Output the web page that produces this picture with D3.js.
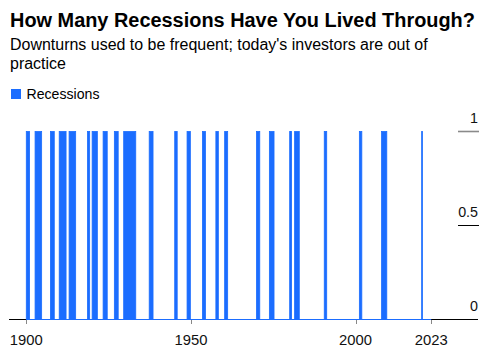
<!DOCTYPE html>
<html>
<head>
<meta charset="utf-8">
<script src="https://cdn.jsdelivr.net/npm/d3@7"></script>
<style>
  html, body { margin: 0; padding: 0; background: #fff; }
  svg { display: block; }
  text { font-family: "Liberation Sans", Arial, Helvetica, sans-serif; }
</style>
</head>
<body>
<div id="chart"></div>
<script>
// NBER recessions (peak -> trough), year and month
const peakYears    = [1899, 1902, 1907, 1910, 1913, 1918, 1920, 1923, 1926, 1929, 1937, 1945, 1948, 1953, 1957, 1960, 1969, 1973, 1980, 1981, 1990, 2001, 2007, 2020];
const peakMonths   = [6,    9,    5,    1,    1,    8,    1,    5,    10,   8,    5,    2,    11,   7,    8,    4,    12,   11,   1,    7,    7,    3,    12,   2];
const troughYears  = [1900, 1904, 1908, 1912, 1914, 1919, 1921, 1924, 1927, 1933, 1938, 1945, 1949, 1954, 1958, 1961, 1970, 1975, 1980, 1982, 1991, 2001, 2009, 2020];
const troughMonths = [12,   8,    6,    1,    12,   3,    7,    7,    11,   3,    6,    10,   10,   5,    4,    2,    11,   3,    7,    11,   3,    11,   6,    4];
const dataStart = 1900;
const dataEnd = 2023;
const xTickValues = [1900, 1950, 2000, 2023];
const yTickValues = [0, 0.5, 1];
const yTickLabels = ["0", "0.5", "1"];
const seriesName = "Recessions";
const titleText = "How Many Recessions Have You Lived Through?";
const subtitleLines = ["Downturns used to be frequent; today's investors are out of", "practice"];

const W = 491, H = 355;
const blue = "#1b6dff";

const svg = d3.select("#chart").append("svg").attr("width", W).attr("height", H);

function fitText(sel, target) {
  const len = sel.node().getComputedTextLength();
  const fs = parseFloat(sel.attr("font-size"));
  sel.attr("font-size", (fs * target / len).toFixed(2));
}

// Title & subtitle
const t = svg.append("text").attr("x", 10).attr("y", 26.7)
  .attr("font-size", 19).attr("font-weight", "bold").attr("fill", "#000").text(titleText);
fitText(t, 465);
const s1 = svg.append("text").attr("x", 10).attr("y", 49.5)
  .attr("font-size", 14.5).attr("fill", "#000").text(subtitleLines[0]);
fitText(s1, 418);
const fsSub = s1.attr("font-size");
svg.append("text").attr("x", 10).attr("y", 68.7)
  .attr("font-size", fsSub).attr("fill", "#000").text(subtitleLines[1]);

// Legend
svg.append("rect").attr("x", 11).attr("y", 89).attr("width", 10).attr("height", 10).attr("fill", blue);
const lg = svg.append("text").attr("x", 26.5).attr("y", 99.2)
  .attr("font-size", 14.5).attr("fill", "#000").text(seriesName);
fitText(lg, 73);

// Scales
const x = d3.scaleLinear().domain([1894.75, 2037.2]).range([9, 478]);
const y = d3.scaleLinear().domain([0, 1]).range([319.5, 131.5]);

const recessions = peakYears.map((py, i) => ({
  start: Math.max(dataStart, py + (peakMonths[i] - 1) / 12),
  end: troughYears[i] + troughMonths[i] / 12
}));

// Black baseline (full axis)
svg.append("line").attr("x1", x.range()[0]).attr("x2", x.range()[1])
  .attr("y1", y(0)).attr("y2", y(0)).attr("stroke", "#000").attr("stroke-width", 1);

// Right-side gridline stubs and labels
const gx1 = 458, gx2 = 479;
yTickValues.forEach((v, i) => {
  if (v !== 0) {
    svg.append("line").attr("x1", gx1).attr("x2", gx2).attr("y1", y(v)).attr("y2", y(v))
      .attr("stroke", v === 1 ? "#8a8a8a" : "#000").attr("stroke-width", v === 1 ? 1.6 : 1);
  }
  svg.append("text").attr("x", 478).attr("y", y(v) - 8.5)
    .attr("text-anchor", "end").attr("font-size", 14.3).attr("fill", "#111").text(yTickLabels[i]);
});

// Recession bars
svg.append("g").selectAll("rect").data(recessions).join("rect")
  .attr("x", d => x(d.start))
  .attr("width", d => x(d.end) - x(d.start))
  .attr("y", y(1))
  .attr("height", y(0) - y(1))
  .attr("fill", blue)
  .attr("stroke", blue)
  .attr("stroke-width", 0.8);

// Blue baseline along data range
svg.append("line").attr("x1", x(dataStart)).attr("x2", x(dataEnd))
  .attr("y1", y(0)).attr("y2", y(0)).attr("stroke", blue).attr("stroke-width", 1);

// X axis ticks & labels
const xa = svg.append("g");
xTickValues.forEach(v => {
  xa.append("line").attr("x1", Math.round(x(v)) + 0.5).attr("x2", Math.round(x(v)) + 0.5)
    .attr("y1", y(0) + 0.5).attr("y2", y(0) + 4.5).attr("stroke", "#888").attr("stroke-width", 1);
  xa.append("text").attr("x", x(v)).attr("y", 345)
    .attr("text-anchor", "middle").attr("font-size", 14.8).attr("fill", "#111").text(v);
});
</script>
</body>
</html>
